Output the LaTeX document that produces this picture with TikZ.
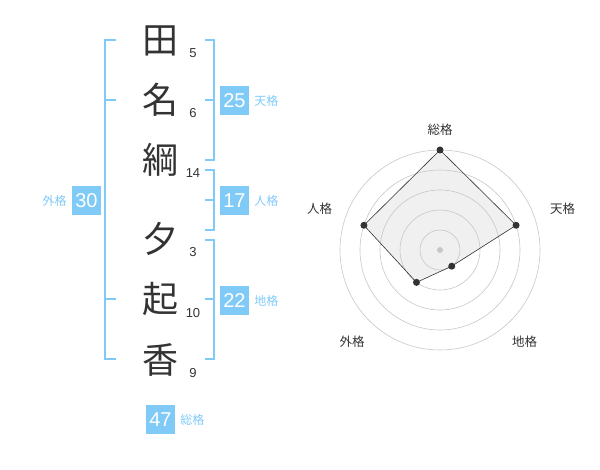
\documentclass[tikz,border=0pt]{standalone}
\usepackage{fontspec}
\setmainfont{Liberation Sans}
\newfontfamily\jfont{Noto Sans CJK JP}
\usetikzlibrary{positioning}
\definecolor{kakuBlue}{HTML}{80CAF8}
\definecolor{inkGray}{HTML}{333333}
\tikzset{
  kanji/.style={font=\jfont\fontsize{36}{36}\selectfont, text=inkGray, inner sep=0pt},
  strokes/.style={font=\fontsize{13}{13}\selectfont, text=inkGray, inner sep=0pt},
  kakubox/.style={fill=kakuBlue, text=white, minimum size=29pt, inner sep=0pt, font=\fontsize{20}{20}\selectfont},
  kakulabel/.style={text=kakuBlue, font=\jfont\fontsize{12}{12}\selectfont, inner sep=0pt},
  bracket/.style={draw=kakuBlue, line width=2pt},
  ring/.style={draw=black!22, line width=0.6pt},
  axislabel/.style={text=inkGray, font=\jfont\fontsize{12.5}{12.5}\selectfont, inner sep=0pt}
}
\begin{document}
\begin{tikzpicture}[x=1pt,y=-1pt]
\useasboundingbox (0,0) rectangle (600,470);
%% name column
\node[kanji] (ta) at (160,41) {田};
\node[kanji] (na) at (160,100) {名};
\node[kanji] (tsuna) at (160,160) {綱};
\node[kanji] (yu) at (160,239) {夕};
\node[kanji] (ki) at (160,299) {起};
\node[kanji] (ka) at (160,360) {香};
\node[strokes] (n1) at (193,53) {5};
\node[strokes] (n2) at (193,113) {6};
\node[strokes] (n3) at (193,173) {14};
\node[strokes] (n4) at (193,252) {3};
\node[strokes] (n5) at (193,313) {10};
\node[strokes] (n6) at (193,373) {9};
%% brackets
\draw[bracket] (116,40) -- (105,40) -- (105,359) -- (116,359);
\draw[bracket] (105,100) -- (116,100);
\draw[bracket] (105,299) -- (116,299);
\draw[bracket] (205,40) -- (214,40) -- (214,160) -- (205,160);
\draw[bracket] (214,100) -- (205,100);
\draw[bracket] (205,170) -- (214,170) -- (214,230) -- (205,230);
\draw[bracket] (214,200) -- (205,200);
\draw[bracket] (205,240) -- (214,240) -- (214,359) -- (205,359);
\draw[bracket] (214,299) -- (205,299);
%% totals
\node[kakubox] (ten) at (234.5,100.5) {25};
\node[kakulabel, right=5pt of ten] {天格};
\node[kakubox] (jin) at (234.5,200.5) {17};
\node[kakulabel, right=5pt of jin] {人格};
\node[kakubox] (chi) at (234.5,300.5) {22};
\node[kakulabel, right=5pt of chi] {地格};
\node[kakubox] (gai) at (86.5,200.5) {30};
\node[kakulabel, left=5pt of gai] {外格};
\node[kakubox] (sou) at (160.5,419.5) {47};
\node[kakulabel, right=5pt of sou] {総格};
%% radar chart
\coordinate (C) at (440,250);
\coordinate (pSou) at ([shift={(90:100pt)}]C);
\coordinate (pTen) at ([shift={(18:80pt)}]C);
\coordinate (pChi) at ([shift={(-54:20pt)}]C);
\coordinate (pGai) at ([shift={(-126:40pt)}]C);
\coordinate (pJin) at ([shift={(162:80pt)}]C);
\fill[black!6] (pSou) -- (pTen) -- (pChi) -- (pGai) -- (pJin) -- cycle;
\foreach \r in {20,40,60,80,100}
  \draw[ring] (C) circle (\r pt);
\draw[inkGray, line width=0.6pt] (pSou) -- (pTen) -- (pChi) -- (pGai) -- (pJin) -- cycle;
\fill[black!22] (C) circle (3pt);
\foreach \p in {pSou,pTen,pChi,pGai,pJin}
  \fill[inkGray] (\p) circle (3.5pt);
\node[axislabel] (lSou) at (440,130) {総格};
\node[axislabel] (lTen) at (562.5,208.5) {天格};
\node[axislabel] (lJin) at (319.5,208.5) {人格};
\node[axislabel] (lGai) at (352,342) {外格};
\node[axislabel] (lChi) at (524.5,342) {地格};
\end{tikzpicture}
\end{document}
